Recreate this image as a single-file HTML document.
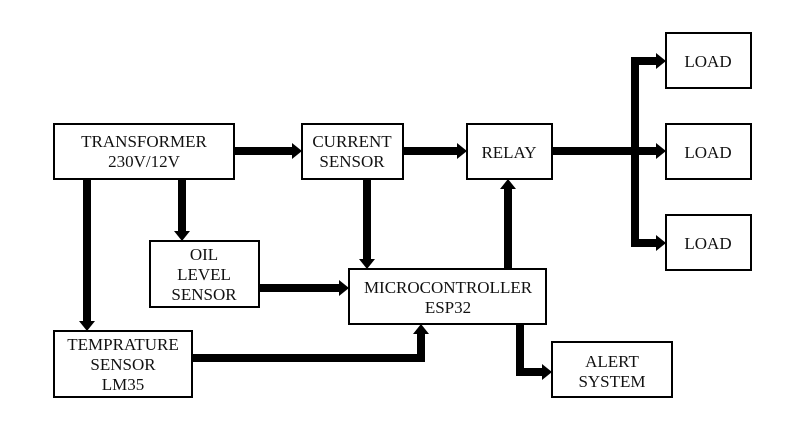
<!DOCTYPE html>
<html><head><meta charset="utf-8"><style>
html,body{margin:0;padding:0;background:#fff}
svg{display:block}
text{font-family:"Liberation Serif",serif;font-size:17px;fill:#111;text-anchor:middle}
rect{fill:#fff;stroke:#000;stroke-width:2}
.l{fill:none;stroke:#000;stroke-width:8}
</style></head><body>
<svg width="810" height="441" viewBox="0 0 810 441">
<g>
<polyline class="l" points="234,151 292,151"/><polygon points="292,143 302,151 292,159"/>
<polyline class="l" points="403,151 457,151"/><polygon points="457,143 467,151 457,159"/>
<polyline class="l" points="552,151 656,151"/><polygon points="656,143 666,151 656,159"/>
<polyline class="l" points="656,61 635,61 635,243 656,243"/>
<polygon points="656,53 666,61 656,69"/><polygon points="656,235 666,243 656,251"/>
<polyline class="l" points="87,179 87,321"/><polygon points="79,321 87,331 95,321"/>
<polyline class="l" points="182,179 182,231"/><polygon points="174,231 182,241 190,231"/>
<polyline class="l" points="367,179 367,259"/><polygon points="359,259 367,269 375,259"/>
<polyline class="l" points="259,288 339,288"/><polygon points="339,280 349,288 339,296"/>
<polyline class="l" points="192,358 421,358 421,334"/><polygon points="413,334 421,324 429,334"/>
<polyline class="l" points="508,269 508,189"/><polygon points="500,189 508,179 516,189"/>
<polyline class="l" points="520,324 520,372 542,372"/><polygon points="542,364 552,372 542,380"/>
</g>
<rect x="54" y="124" width="180" height="55"/>
<text x="144" y="147">TRANSFORMER</text><text x="144" y="167">230V/12V</text>
<rect x="302" y="124" width="101" height="55"/>
<text x="352" y="147">CURRENT</text><text x="352" y="167">SENSOR</text>
<rect x="467" y="124" width="85" height="55"/>
<text x="509" y="158">RELAY</text>
<rect x="666" y="33" width="85" height="55"/><text x="708" y="67">LOAD</text>
<rect x="666" y="124" width="85" height="55"/><text x="708" y="158">LOAD</text>
<rect x="666" y="215" width="85" height="55"/><text x="708" y="249">LOAD</text>
<rect x="150" y="241" width="109" height="66"/>
<text x="204" y="260">OIL</text><text x="204" y="280">LEVEL</text><text x="204" y="300">SENSOR</text>
<rect x="349" y="269" width="197" height="55"/>
<text x="448" y="293">MICROCONTROLLER</text><text x="448" y="313">ESP32</text>
<rect x="54" y="331" width="138" height="66"/>
<text x="123" y="350">TEMPRATURE</text><text x="123" y="370">SENSOR</text><text x="123" y="390">LM35</text>
<rect x="552" y="342" width="120" height="55"/>
<text x="612" y="367">ALERT</text><text x="612" y="387">SYSTEM</text>
</svg>
</body></html>
